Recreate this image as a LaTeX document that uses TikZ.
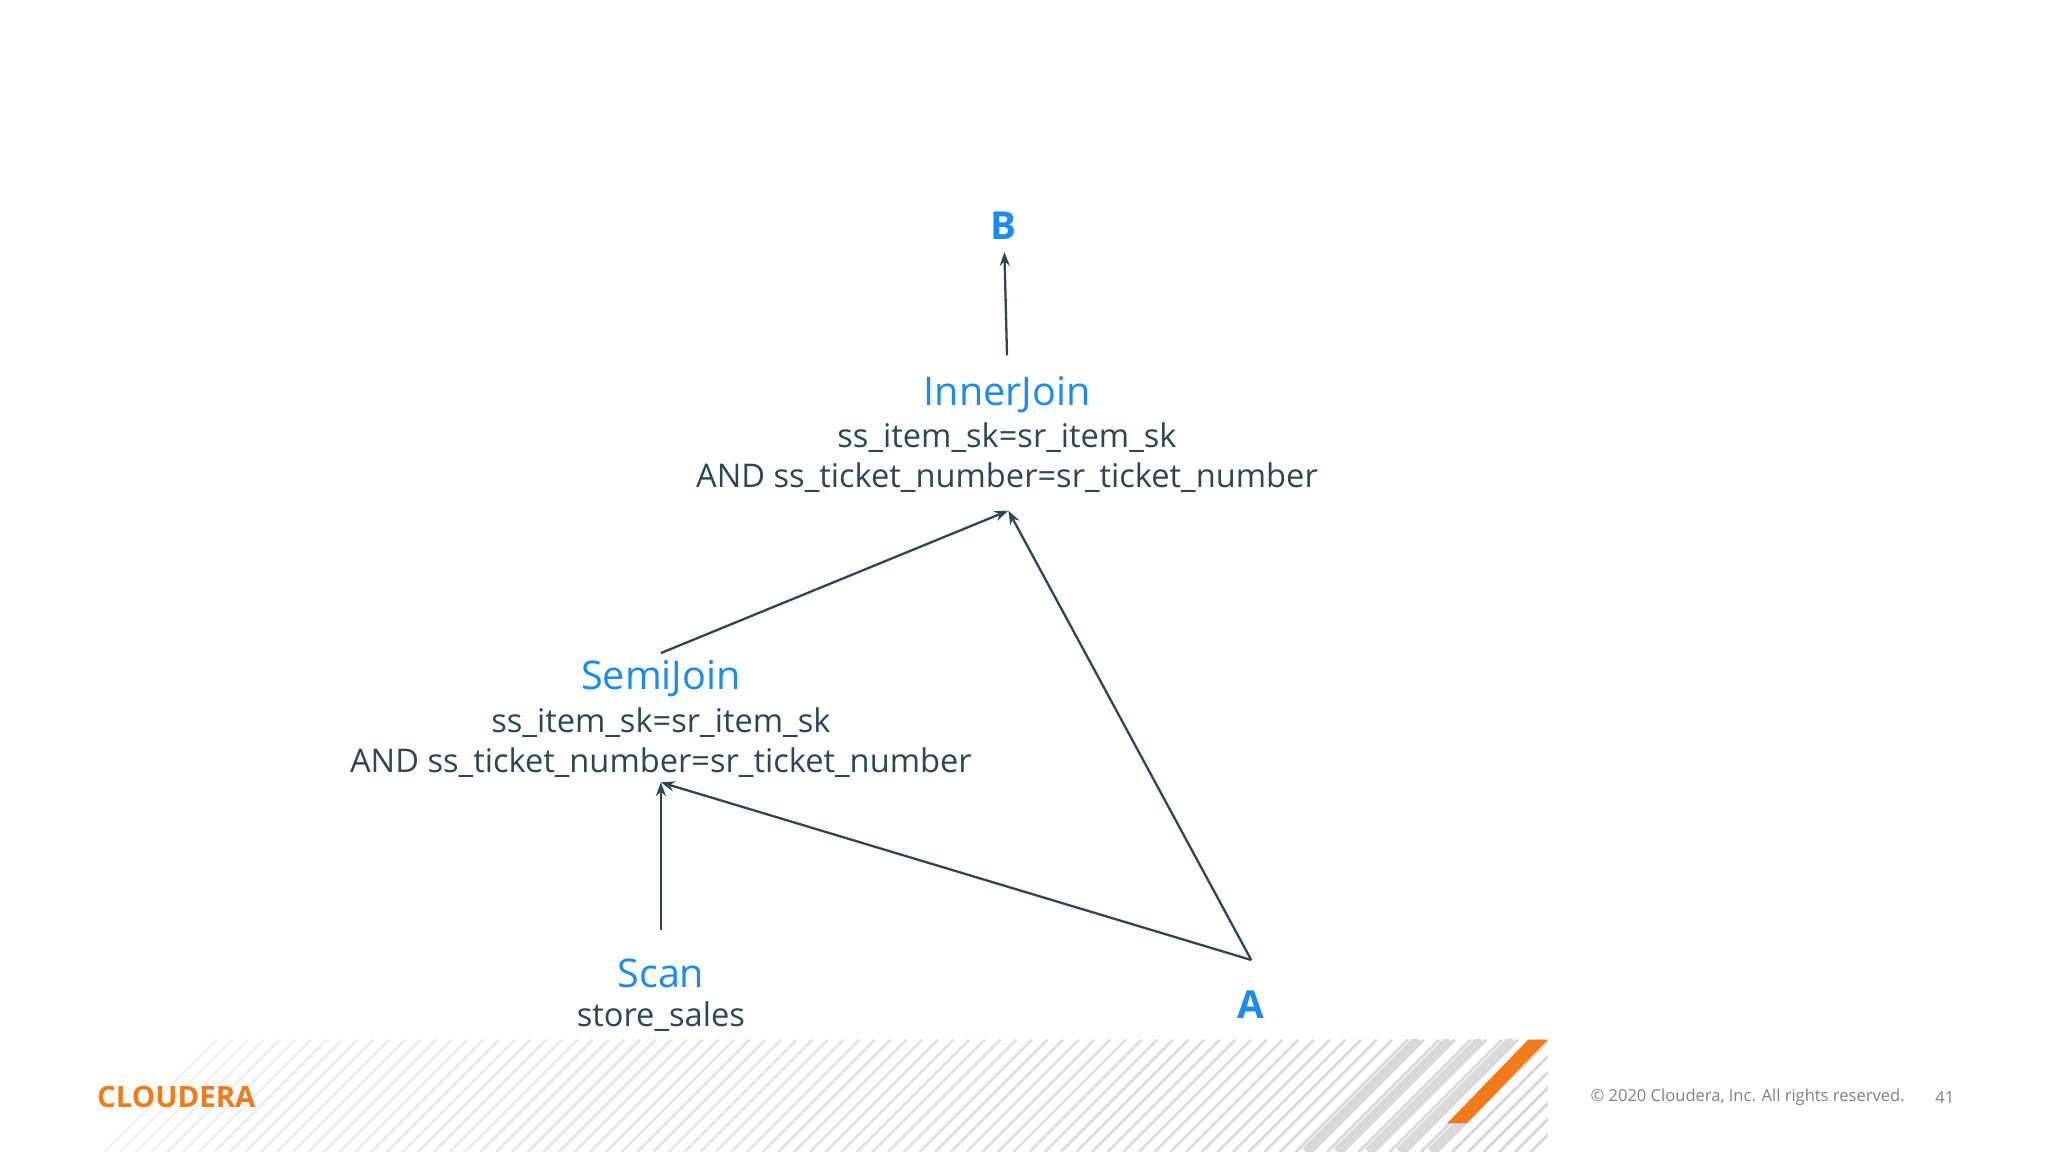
\documentclass[tikz,border=0pt]{standalone}
\usepackage{fontspec}
\setmainfont{Open Sans}
\usetikzlibrary{arrows.meta}
\definecolor{cblue}{HTML}{1A8CF0}
\definecolor{cdark}{HTML}{2B4654}
\definecolor{corange}{HTML}{F07B1A}
\tikzset{
 ttl/.style={text=cblue,font=\fontsize{8.6pt}{10pt}\selectfont,inner sep=0},
 txt/.style={text=cdark,font=\fontsize{7.1pt}{9pt}\selectfont,inner sep=0},
 lbl/.style={text=cblue,font=\fontsize{8.4pt}{10pt}\selectfont\bfseries,inner sep=0},
 arr/.style={-{Stealth[length=3pt,width=2.2pt]},draw=cdark,line width=0.5pt}
}
\begin{document}
\begin{tikzpicture}[x=0.01cm,y=-0.01cm]
\useasboundingbox (0,0) rectangle (1568,882);
% footer stripes
\begin{scope}
\clip (80,796) rectangle (1185,882);
\foreach \i in {0,12,...,1100}{
 \pgfmathsetmacro{\op}{0.12+0.2*(\i/1100)}
 \draw[gray,opacity=\op,line width=0.6pt] (80+\i,882) -- (80+\i+86,796);
}
\foreach \i in {1000,1024,1048,1072,1096}{
 \draw[gray!30,line width=2.2pt] (\i,882) -- (\i+86,796);
}
\end{scope}
\fill[corange] (1108,860) -- (1170,796) -- (1185,796) -- (1123,860) -- cycle;
\node[text=corange,font=\fontsize{6.4pt}{8pt}\selectfont\bfseries,inner sep=0] (logo) at (135,840) {CLOUDERA};
\node[text=gray,font=\fontsize{3.6pt}{5pt}\selectfont,inner sep=0] (copy) at (1338,840) {© 2020 Cloudera, Inc. All rights reserved.};
\node[text=gray,font=\fontsize{3.6pt}{5pt}\selectfont,inner sep=0] (pg) at (1489,840) {41};
% nodes
\node[lbl] (B) at (768,173) {B};
\node[ttl] (ij) at (771,302) {InnerJoin};
\node[txt] (ij2) at (771,335) {ss\_item\_sk=sr\_item\_sk};
\node[txt] (ij3) at (771,366) {AND ss\_ticket\_number=sr\_ticket\_number};
\node[ttl] (sj) at (506,520) {SemiJoin};
\node[txt] (sj2) at (506,553) {ss\_item\_sk=sr\_item\_sk};
\node[txt] (sj3) at (506,584) {AND ss\_ticket\_number=sr\_ticket\_number};
\node[ttl] (sc) at (506,745) {Scan};
\node[txt] (sc2) at (506,778) {store\_sales};
\node[lbl] (A) at (958,769) {A};
% anchor points
\coordinate (Bin) at (769,193);
\coordinate (ijout) at (771,272);
\coordinate (ijin) at (772,391);
\coordinate (sjout) at (506,500);
\coordinate (sjin) at (506,599);
\coordinate (scout) at (506,712);
\coordinate (Aout) at (958,735);
\draw[arr] (ijout) -- (Bin);
\draw[arr] (sjout) -- (ijin);
\draw[arr] (Aout) -- (ijin);
\draw[arr] (scout) -- (sjin);
\draw[arr] (Aout) -- (sjin);
\end{tikzpicture}
\end{document}
